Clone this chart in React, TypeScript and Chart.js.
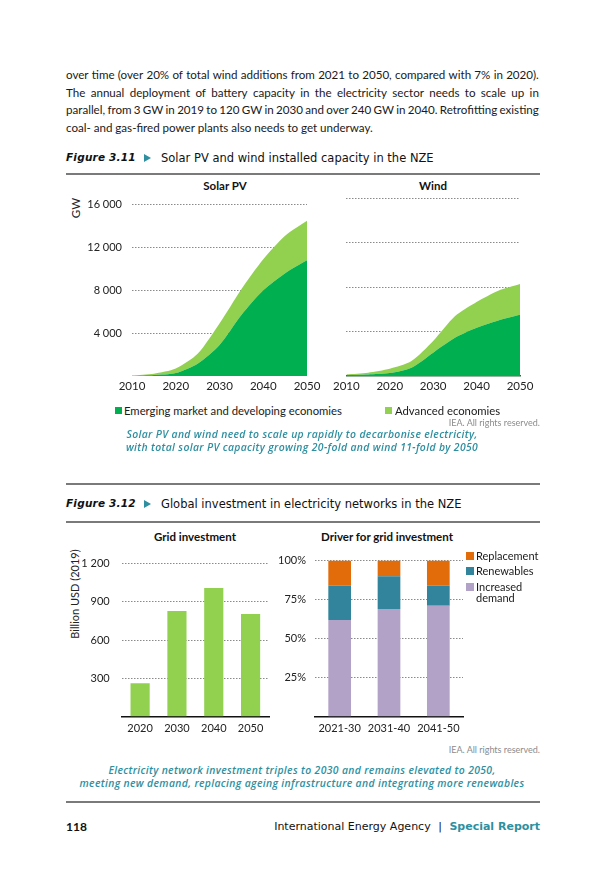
import React, { useEffect, useRef } from 'react';
import { Chart, registerables } from 'chart.js';
Chart.register(...registerables);

// ---------- DATA ----------
const AREA_YEARS = ['2010', '2015', '2020', '2025', '2030', '2035', '2040', '2045', '2050'];
const SOLAR_EMDE = [15, 90, 280, 1150, 2900, 5700, 8000, 9600, 10800];
const SOLAR_ADVANCED = [25, 130, 420, 920, 2000, 2400, 2900, 3500, 3700];
const WIND_EMDE = [60, 140, 270, 750, 2100, 3430, 4330, 5000, 5500];
const WIND_ADVANCED = [90, 160, 380, 590, 1050, 1940, 2320, 2670, 2770];
const AREA_Y_TICKS = [0, 4000, 8000, 12000, 16000];

const GRID_YEARS = ['2020', '2030', '2040', '2050'];
const GRID_INVESTMENT = [263, 829, 1008, 804];
const GRID_Y_TICKS = [0, 300, 600, 900, 1200];

const DRIVER_PERIODS = ['2021-30', '2031-40', '2041-50'];
const DRIVER_DEMAND = [62, 69, 71];
const DRIVER_RENEWABLES = [22, 21, 13];
const DRIVER_REPLACEMENT = [16, 10, 16];
const DRIVER_Y_TICKS = [0, 25, 50, 75, 100];

// ---------- STYLE ----------
const C_EMDE = '#00B050';
const C_ADV = '#92D050';
const C_REPL = '#E36C0A';
const C_RENEW = '#31849B';
const C_DEMAND = '#B3A2C7';
const TEAL = '#2E8FA0';
const GRID = '#8a8a8a';
const TICK_FONT = { family: 'Lato, Carlito, sans-serif', size: 11 };
const BODY = 'Lato, sans-serif';
const HEAD = '"DejaVu Sans", sans-serif';

const fmtThousands = (v: number) => String(v).replace(/\B(?=(\d{3})+(?!\d))/g, ' ');

function ChartBox({ left, top, width, height, make }: any) {
  const ref = useRef<HTMLCanvasElement>(null);
  useEffect(() => {
    const chart = new Chart(ref.current as HTMLCanvasElement, make());
    return () => chart.destroy();
  }, []);
  return (
    <canvas
      ref={ref}
      width={width}
      height={height}
      style={{ position: 'absolute', left, top, width, height }}
    />
  );
}

const gridColor = (ctx: any) => (ctx.tick && ctx.tick.value === 0 ? 'rgba(0,0,0,0)' : GRID);

function areaConfig(emde: number[], adv: number[], showY: boolean, padLeft: number, padRight: number, bottomLine: boolean): any {
  return {
    type: 'line',
    data: {
      labels: AREA_YEARS,
      datasets: [
        {
          label: 'Emerging market and developing economies',
          data: emde,
          backgroundColor: C_EMDE,
          borderWidth: 0,
          pointRadius: 0,
          fill: 'origin',
          tension: 0.25,
        },
        {
          label: 'Advanced economies',
          data: adv,
          backgroundColor: C_ADV,
          borderWidth: 0,
          pointRadius: 0,
          fill: '-1',
          tension: 0.25,
        },
      ],
    },
    options: {
      animation: false,
      responsive: false,
      layout: { padding: { top: 10, left: padLeft, right: padRight, bottom: 0 } },
      plugins: { legend: { display: false }, tooltip: { enabled: false } },
      scales: {
        x: {
          grid: { display: false, drawTicks: false },
          border: { display: bottomLine, color: '#2f6a3e', width: 1.5 },
          ticks: {
            autoSkip: false,
            maxRotation: 0,
            padding: 3,
            color: '#222',
            font: { ...TICK_FONT, size: 11.5 },
            callback: function (this: any, v: any) {
              const l = this.getLabelForValue(v);
              return Number(l) % 10 === 0 ? l : '';
            },
          },
          afterFit: (s: any) => { s.height = 24; },
        },
        y: {
          stacked: true,
          min: 0,
          max: 16000,
          afterBuildTicks: (s: any) => { s.ticks = AREA_Y_TICKS.map((v) => ({ value: v })); },
          grid: { color: gridColor, lineWidth: 1, drawTicks: false },
          border: { display: false, dash: [1.5, 1.5] },
          ticks: {
            display: showY,
            padding: 10,
            color: '#222',
            font: TICK_FONT,
            callback: (v: any) => (v === 0 ? '' : fmtThousands(v)),
          },
          afterFit: (s: any) => { s.width = showY ? 72 : 0; },
        },
      },
    },
  };
}

function gridConfig(): any {
  return {
    type: 'bar',
    data: {
      labels: GRID_YEARS,
      datasets: [
        {
          label: 'Grid investment',
          data: GRID_INVESTMENT,
          backgroundColor: C_ADV,
          barPercentage: 0.52,
          categoryPercentage: 1,
        },
      ],
    },
    options: {
      animation: false,
      responsive: false,
      layout: { padding: { top: 9, left: 0, right: 16, bottom: 0 } },
      plugins: { legend: { display: false }, tooltip: { enabled: false } },
      scales: {
        x: {
          grid: { display: false, drawTicks: false },
          border: { display: true, color: '#111', width: 1.5 },
          ticks: { padding: 5, color: '#222', font: TICK_FONT, maxRotation: 0 },
          afterFit: (s: any) => { s.height = 23.3; },
        },
        y: {
          min: 0,
          max: 1200,
          afterBuildTicks: (s: any) => { s.ticks = GRID_Y_TICKS.map((v) => ({ value: v })); },
          grid: { color: gridColor, drawTicks: false },
          border: { display: false, dash: [1.5, 1.5] },
          ticks: {
            padding: 12,
            color: '#222',
            font: TICK_FONT,
            callback: (v: any) => (v === 0 ? '' : fmtThousands(v)),
          },
          afterFit: (s: any) => { s.width = 66.7; },
        },
      },
    },
  };
}

function driverConfig(): any {
  const ds = (label: string, data: number[], color: string) => ({
    label,
    data,
    backgroundColor: color,
    barPercentage: 0.46,
    categoryPercentage: 1,
  });
  return {
    type: 'bar',
    data: {
      labels: DRIVER_PERIODS,
      datasets: [
        ds('Increased demand', DRIVER_DEMAND, C_DEMAND),
        ds('Renewables', DRIVER_RENEWABLES, C_RENEW),
        ds('Replacement', DRIVER_REPLACEMENT, C_REPL),
      ],
    },
    options: {
      animation: false,
      responsive: false,
      layout: { padding: { top: 9, left: 0, right: 7, bottom: 0 } },
      plugins: { legend: { display: false }, tooltip: { enabled: false } },
      scales: {
        x: {
          stacked: true,
          grid: { display: false, drawTicks: false },
          border: { display: true, color: '#111', width: 1.5 },
          ticks: { padding: 5, color: '#222', font: TICK_FONT, maxRotation: 0 },
          afterFit: (s: any) => { s.height = 23.3; },
        },
        y: {
          stacked: true,
          min: 0,
          max: 100,
          afterBuildTicks: (s: any) => { s.ticks = DRIVER_Y_TICKS.map((v) => ({ value: v })); },
          grid: { color: gridColor, drawTicks: false },
          border: { display: false, dash: [1.5, 1.5] },
          ticks: {
            padding: 9,
            color: '#222',
            font: TICK_FONT,
            callback: (v: any) => (v === 0 ? '' : v + '%'),
          },
          afterFit: (s: any) => { s.width = 45; },
        },
      },
    },
  };
}

// ---------- TEXT HELPERS ----------
function T({ x, y, align = 'left', children, style }: any) {
  const tx = align === 'center' ? '-50%' : align === 'right' ? '-100%' : '0';
  return (
    <div
      style={{
        position: 'absolute',
        left: x,
        top: y,
        transform: `translate(${tx}, -50%)`,
        whiteSpace: 'nowrap',
        lineHeight: 1.1,
        ...style,
      }}
    >
      {children}
    </div>
  );
}

function JLine({ y, text, justify = true }: any) {
  const words = text.split(' ');
  return (
    <div
      style={{
        position: 'absolute',
        left: 66,
        width: 473,
        top: y,
        transform: 'translateY(-50%)',
        display: 'flex',
        justifyContent: justify ? 'space-between' : 'flex-start',
        gap: justify ? 0 : '0.25em',
        whiteSpace: 'nowrap',
        fontFamily: BODY,
        fontSize: 11.6,
        color: '#1a1a1a',
        lineHeight: 1.1,
      }}
    >
      {words.map((w: string, i: number) => (
        <span key={i}>{w}</span>
      ))}
    </div>
  );
}

const Rule = ({ y }: any) => (
  <div style={{ position: 'absolute', left: 66, width: 474, top: y - 1, height: 2, background: '#7a7a7a' }} />
);

function FigTitle({ y, num, text }: any) {
  return (
    <>
      <T x={66} y={y} style={{ fontFamily: HEAD, fontWeight: 'bold', fontStyle: 'italic', fontSize: 10.5, letterSpacing: 0.2, color: '#111' }}>
        {num}
      </T>
      <div
        style={{
          position: 'absolute',
          left: 144,
          top: y - 4,
          width: 0,
          height: 0,
          borderTop: '4px solid transparent',
          borderBottom: '4px solid transparent',
          borderLeft: `7px solid ${TEAL}`,
        }}
      />
      <T x={161} y={y} style={{ fontFamily: HEAD, fontSize: 11.5, color: '#111' }}>
        {text}
      </T>
    </>
  );
}

const Caption = ({ y, text }: any) => (
  <T
    x={302}
    y={y}
    align="center"
    style={{ fontFamily: '"Open Sans", sans-serif', fontStyle: 'italic', fontWeight: 600, fontSize: 10.4, color: TEAL, letterSpacing: 0.35 }}
  >
    {text}
  </T>
);

const Sq = ({ x, y, color, size = 7 }: any) => (
  <div style={{ position: 'absolute', left: x, top: y - size / 2, width: size, height: size, background: color }} />
);

const tickStyle = { fontFamily: 'Lato, sans-serif', fontSize: 11, color: '#222' };
const subTitle = { fontFamily: 'Lato, sans-serif', fontSize: 11.5, fontWeight: 'bold', color: '#111' };

export default function App() {
  return (
    <div style={{ position: 'absolute', left: 0, top: 0, width: 605, height: 870, background: '#fff', overflow: 'hidden' }}>
      <JLine y={75} text="over time (over 20% of total wind additions from 2021 to 2050, compared with 7% in 2020)." />
      <JLine y={92.5} text="The annual deployment of battery capacity in the electricity sector needs to scale up in" />
      <JLine y={110} text="parallel, from 3 GW in 2019 to 120 GW in 2030 and over 240 GW in 2040. Retrofitting existing" />
      <JLine y={127.5} text="coal- and gas-fired power plants also needs to get underway." justify={false} />

      <FigTitle y={158} num="Figure 3.11" text="Solar PV and wind installed capacity in the NZE" />
      <Rule y={174} />

      <T x={225} y={186} align="center" style={subTitle}>Solar PV</T>
      <T x={433} y={186} align="center" style={subTitle}>Wind</T>
      <div
        style={{
          position: 'absolute',
          left: 75,
          top: 208,
          transform: 'translate(-50%, -50%) rotate(-90deg)',
          ...tickStyle,
          fontSize: 11.5,
          whiteSpace: 'nowrap',
        }}
      >
        GW
      </div>
      <ChartBox left={60} top={188} width={272} height={212} make={() => areaConfig(SOLAR_EMDE, SOLAR_ADVANCED, true, 0, 25, false)} />
      <ChartBox left={330} top={188} width={215} height={212} make={() => areaConfig(WIND_EMDE, WIND_ADVANCED, false, 15, 25, true)} />

      <Sq x={115} y={410.5} color={C_EMDE} />
      <T x={124} y={410.5} style={{ ...tickStyle, fontSize: 11.3, color: '#1a1a1a' }}>Emerging market and developing economies</T>
      <Sq x={385} y={410.5} color={C_ADV} />
      <T x={395} y={410.5} style={{ ...tickStyle, fontSize: 11.3, color: '#1a1a1a' }}>Advanced economies</T>

      <T x={540} y={422.5} align="right" style={{ fontFamily: BODY, fontSize: 9, color: '#8c8c8c' }}>IEA. All rights reserved.</T>
      <Caption y={434.5} text="Solar PV and wind need to scale up rapidly to decarbonise electricity," />
      <Caption y={447.5} text="with total solar PV capacity growing 20-fold and wind 11-fold by 2050" />
      <Rule y={483.5} />

      <FigTitle y={503.5} num="Figure 3.12" text="Global investment in electricity networks in the NZE" />
      <Rule y={521.5} />

      <T x={195} y={537} align="center" style={subTitle}>Grid investment</T>
      <T x={387} y={537} align="center" style={subTitle}>Driver for grid investment</T>
      <div
        style={{
          position: 'absolute',
          left: 74,
          top: 594,
          transform: 'translate(-50%, -50%) rotate(-90deg)',
          ...tickStyle,
          whiteSpace: 'nowrap',
        }}
      >
        Billion USD (2019)
      </div>
      <ChartBox left={55} top={545} width={230} height={195} make={gridConfig} />
      <ChartBox left={270} top={545} width={200} height={195} make={driverConfig} />

      <Sq x={466} y={555.5} color={C_REPL} size={8} />
      <T x={476} y={555.5} style={{ ...tickStyle, color: '#1a1a1a' }}>Replacement</T>
      <Sq x={466} y={571} color={C_RENEW} size={8} />
      <T x={476} y={571} style={{ ...tickStyle, color: '#1a1a1a' }}>Renewables</T>
      <Sq x={466} y={587} color={C_DEMAND} size={8} />
      <T x={476} y={587} style={{ ...tickStyle, color: '#1a1a1a' }}>Increased</T>
      <T x={476} y={597.5} style={{ ...tickStyle, color: '#1a1a1a' }}>demand</T>

      <T x={540} y={749.5} align="right" style={{ fontFamily: BODY, fontSize: 9, color: '#8c8c8c' }}>IEA. All rights reserved.</T>
      <Caption y={770.5} text="Electricity network investment triples to 2030 and remains elevated to 2050," />
      <Caption y={783.5} text="meeting new demand, replacing ageing infrastructure and integrating more renewables" />
      <Rule y={802} />

      <T x={66} y={827} style={{ fontFamily: BODY, fontWeight: 'bold', fontSize: 12, color: '#111' }}>118</T>
      <T x={540} y={827} align="right" style={{ fontFamily: HEAD, fontSize: 11, color: '#111' }}>
        International Energy Agency <span style={{ margin: '0 4px' }}>|</span>{' '}
        <span style={{ color: TEAL, fontWeight: 600 }}>Special Report</span>
      </T>
    </div>
  );
}
